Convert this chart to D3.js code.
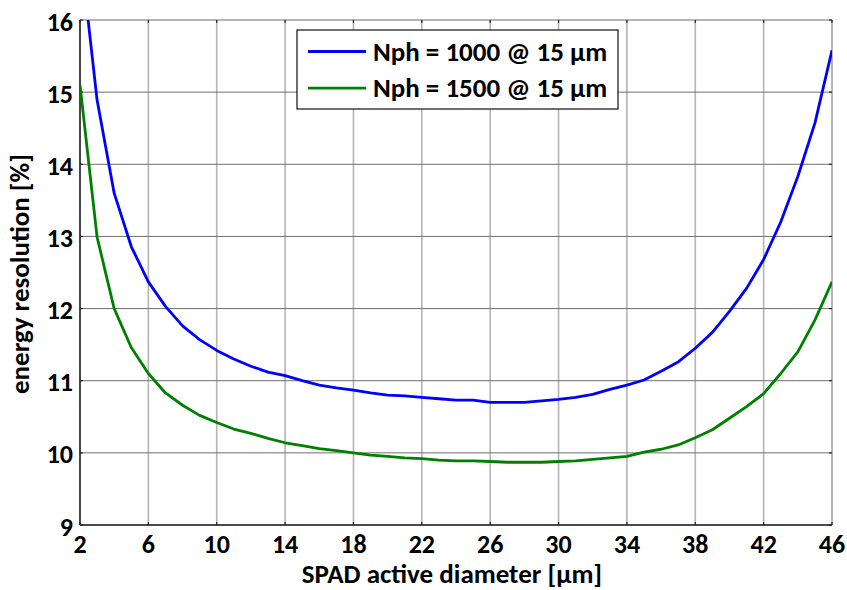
<!DOCTYPE html>
<html>
<head>
<meta charset="utf-8">
<script src="https://cdn.jsdelivr.net/npm/d3@7"></script>
<style>
  html, body { margin: 0; padding: 0; background: #fff; }
  svg { display: block; font-family: Carlito, Lato, "Open Sans", sans-serif; font-weight: bold; }
</style>
</head>
<body>
<svg id="chart" width="847" height="590"></svg>
<script>
// SPAD active diameter [µm]
const diameters = [2, 3, 4, 5, 6, 7, 8, 9, 10, 11, 12, 13, 14, 15, 16, 17, 18, 19, 20, 21, 22, 23,
  24, 25, 26, 27, 28, 29, 30, 31, 32, 33, 34, 35, 36, 37, 38, 39, 40, 41, 42, 43, 44, 45, 46];

// energy resolution [%], Nph = 1000 @ 15 µm
const resNph1000 = [17.0, 14.89, 13.6, 12.86, 12.37, 12.03, 11.76, 11.57, 11.42, 11.30, 11.20, 11.12,
  11.07, 11.00, 10.94, 10.90, 10.87, 10.83, 10.80, 10.79, 10.77, 10.75, 10.73, 10.73, 10.70, 10.70,
  10.70, 10.72, 10.74, 10.77, 10.81, 10.88, 10.94, 11.01, 11.13, 11.26, 11.45, 11.67, 11.96, 12.28,
  12.68, 13.20, 13.83, 14.57, 15.58];

// energy resolution [%], Nph = 1500 @ 15 µm
const resNph1500 = [15.10, 12.99, 12.00, 11.46, 11.10, 10.83, 10.66, 10.52, 10.42, 10.33, 10.27, 10.20,
  10.14, 10.10, 10.06, 10.03, 10.00, 9.97, 9.95, 9.93, 9.92, 9.90, 9.89, 9.89, 9.88, 9.87, 9.87, 9.87,
  9.88, 9.89, 9.91, 9.93, 9.95, 10.01, 10.05, 10.11, 10.21, 10.32, 10.48, 10.64, 10.82, 11.10, 11.40,
  11.84, 12.37];

const seriesNames = ["Nph = 1000 @ 15 μm", "Nph = 1500 @ 15 μm"];
const seriesColors = ["#0000ff", "#008000"];

const xTicks = [2, 6, 10, 14, 18, 22, 26, 30, 34, 38, 42, 46];
const yTicks = [9, 10, 11, 12, 13, 14, 15, 16];

const W = 847, H = 590;
const margin = { top: 20, right: 15, bottom: 65, left: 80 };
const iw = W - margin.left - margin.right;
const ih = H - margin.top - margin.bottom;

const svg = d3.select("#chart");
const g = svg.append("g").attr("transform", `translate(${margin.left},${margin.top})`);

const x = d3.scaleLinear().domain([2, 46]).range([0, iw]);
const y = d3.scaleLinear().domain([9, 16]).range([ih, 0]);

// grid: vertical lines lighter, horizontal darker
g.append("g").selectAll("line").data(xTicks).join("line")
  .attr("x1", d => x(d)).attr("x2", d => x(d)).attr("y1", 0).attr("y2", ih)
  .attr("stroke", "#b4b4b4").attr("stroke-width", 1.6);
g.append("g").selectAll("line").data(yTicks).join("line")
  .attr("x1", 0).attr("x2", iw).attr("y1", d => y(d)).attr("y2", d => y(d))
  .attr("stroke", "#6e6e6e").attr("stroke-width", 1);

// top and right frame edges
g.append("line").attr("x1", 0).attr("x2", iw).attr("y1", 0).attr("y2", 0)
  .attr("stroke", "#b4b4b4").attr("stroke-width", 1.6);
g.append("line").attr("x1", iw).attr("x2", iw).attr("y1", 0).attr("y2", ih)
  .attr("stroke", "#b4b4b4").attr("stroke-width", 1.6);

// inward tick marks on all four sides
const tickLen = 3;
const tk = g.append("g").attr("stroke", "#222").attr("stroke-width", 1.2);
xTicks.forEach(d => {
  tk.append("line").attr("x1", x(d)).attr("x2", x(d)).attr("y1", ih).attr("y2", ih - tickLen);
  tk.append("line").attr("x1", x(d)).attr("x2", x(d)).attr("y1", 0).attr("y2", tickLen);
});
yTicks.forEach(d => {
  tk.append("line").attr("x1", 0).attr("x2", tickLen).attr("y1", y(d)).attr("y2", y(d));
  tk.append("line").attr("x1", iw).attr("x2", iw - tickLen).attr("y1", y(d)).attr("y2", y(d));
});

// left and bottom axes
g.append("line").attr("x1", 0).attr("x2", 0).attr("y1", 0).attr("y2", ih)
  .attr("stroke", "#262626").attr("stroke-width", 1.6);
g.append("line").attr("x1", 0).attr("x2", iw).attr("y1", ih).attr("y2", ih)
  .attr("stroke", "#262626").attr("stroke-width", 1.6);

// tick labels
g.append("g").selectAll("text").data(xTicks).join("text")
  .attr("x", d => x(d)).attr("y", ih + 28)
  .attr("text-anchor", "middle").attr("font-size", 26).attr("fill", "#000")
  .text(d => d);
g.append("g").selectAll("text").data(yTicks).join("text")
  .attr("x", -7).attr("y", d => y(d) + 10.5)
  .attr("text-anchor", "end").attr("font-size", 26).attr("fill", "#000")
  .text(d => d);

// axis titles
svg.append("text")
  .attr("x", 452).attr("y", 583)
  .attr("text-anchor", "middle").attr("font-size", 27).attr("fill", "#000")
  .text("SPAD active diameter [μm]");
svg.append("text")
  .attr("transform", "translate(29,274) rotate(-90)")
  .attr("text-anchor", "middle").attr("font-size", 27).attr("fill", "#000")
  .text("energy resolution [%]");

// curves, clipped to the plot area
g.append("clipPath").attr("id", "plot-clip")
  .append("rect").attr("x", 0).attr("y", 0).attr("width", iw).attr("height", ih);

const line = d3.line().x(d => x(d[0])).y(d => y(d[1]));
[resNph1000, resNph1500].forEach((vals, i) => {
  g.append("path")
    .datum(diameters.map((d, j) => [d, vals[j]]))
    .attr("clip-path", "url(#plot-clip)")
    .attr("fill", "none").attr("stroke", seriesColors[i]).attr("stroke-width", 2.8)
    .attr("stroke-linejoin", "round")
    .attr("d", line);
});

// legend
const lg = svg.append("g").attr("transform", "translate(297,30)");
lg.append("rect").attr("x", 0).attr("y", 0).attr("width", 321).attr("height", 79)
  .attr("fill", "#fff").attr("stroke", "#222").attr("stroke-width", 1.3);
seriesNames.forEach((name, i) => {
  const ly = 21.5 + i * 36.6;
  lg.append("line").attr("x1", 11).attr("x2", 69).attr("y1", ly).attr("y2", ly)
    .attr("stroke", seriesColors[i]).attr("stroke-width", 2.8);
  lg.append("text").attr("x", 76).attr("y", ly + 9)
    .attr("font-size", 27).attr("fill", "#000").text(name);
});
</script>
</body>
</html>
